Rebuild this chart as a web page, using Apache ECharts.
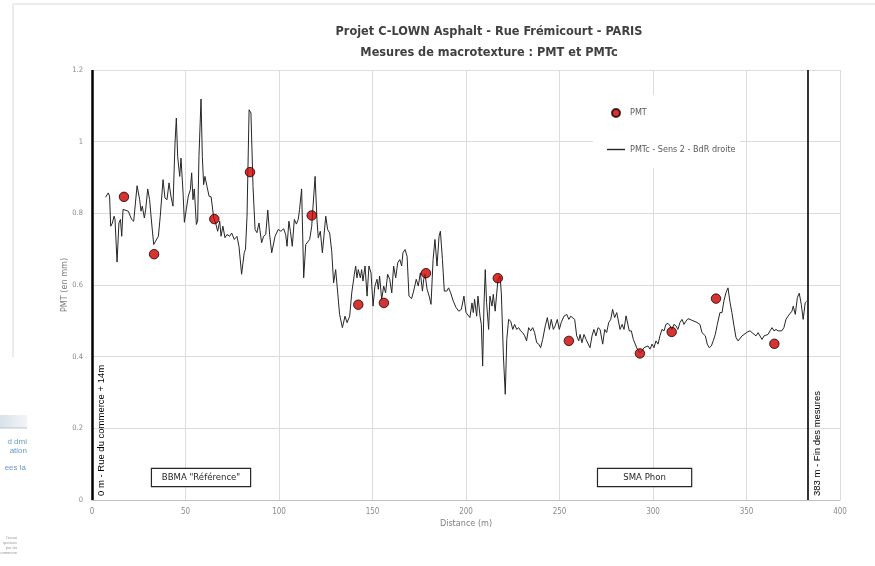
<!DOCTYPE html>
<html>
<head>
<meta charset="utf-8">
<script src="https://cdn.jsdelivr.net/npm/echarts@6/dist/echarts.min.js"></script>
<style>
  html, body { margin: 0; padding: 0; background: #ffffff; }
  #chart { width: 875px; height: 566px; }
</style>
</head>
<body>
<div id="chart"></div>
<script>
// Chart titles
const titleText = 'Projet C-LOWN Asphalt - Rue Frémicourt - PARIS\nMesures de macrotexture : PMT et PMTc';

// PMT point measurements: distance (m) and value (mm)
const pmtDistance = [17.1, 33.2, 65.4, 84.5, 117.5, 142.4, 156.1, 178.6, 217.0, 255.0, 293.0, 310.0, 333.7, 364.9];
const pmtValue    = [0.846, 0.686, 0.784, 0.915, 0.794, 0.545, 0.550, 0.633, 0.619, 0.444, 0.409, 0.469, 0.562, 0.436];

// Continuous PMTc profile, Sens 2 - BdR droite: [distance (m), value (mm)]
const pmtcProfile = [
  [7.3,0.845],[8.7,0.857],[9.4,0.848],[10.0,0.764],[10.9,0.773],[11.8,0.792],[12.3,0.783],[13.4,0.664],[14.4,0.773],[15.2,0.783],
  [15.9,0.736],[16.6,0.811],[17.6,0.811],[19.4,0.806],[21.2,0.783],[22.3,0.778],[24.1,0.877],[25.5,0.838],[26.2,0.806],[26.9,0.82],
  [28.0,0.787],[28.7,0.81],[29.8,0.868],[30.8,0.838],[31.9,0.773],[33.0,0.713],[34.0,0.716],[35.5,0.736],[36.5,0.792],[38.0,0.894],
  [39.0,0.843],[40.1,0.838],[41.2,0.885],[42.2,0.848],[43.3,0.82],[44.4,0.996],[45.1,1.066],[45.8,0.959],[46.9,0.903],[47.6,0.954],
  [48.7,0.857],[49.4,0.775],[50.4,0.81],[51.5,0.848],[52.6,0.866],[53.3,0.913],[54.0,0.838],[54.7,0.868],[55.8,0.769],[56.5,0.778],
  [57.2,0.959],[58.3,1.119],[59.0,0.959],[59.7,0.88],[60.4,0.903],[61.5,0.875],[62.6,0.848],[63.7,0.846],[65.1,0.787],[66.1,0.773],
  [67.2,0.75],[68.3,0.778],[69.0,0.736],[70.0,0.764],[71.1,0.732],[72.2,0.741],[73.6,0.736],[74.7,0.745],[76.1,0.727],[77.5,0.736],
  [78.6,0.708],[80.0,0.63],[81.4,0.69],[82.1,0.70],[82.9,0.792],[84.0,1.089],[85.0,1.08],[86.1,0.875],[87.2,0.755],[88.2,0.746],
  [89.3,0.773],[90.7,0.718],[91.8,0.736],[92.9,0.741],[94.0,0.809],[95.0,0.74],[96.1,0.69],[97.9,0.736],[99.6,0.755],[101.0,0.75],
  [102.5,0.757],[103.6,0.74],[104.3,0.708],[105.3,0.778],[106.1,0.75],[107.1,0.708],[108.2,0.783],[109.3,0.77],[110.3,0.783],[111.0,0.811],
  [112.1,0.868],[113.2,0.62],[114.3,0.713],[115.3,0.71],[116.4,0.727],[117.5,0.764],[118.2,0.82],[119.3,0.903],[120.3,0.783],[121.0,0.732],
  [122.1,0.75],[123.2,0.69],[124.2,0.69],[125.0,0.792],[126.0,0.755],[127.1,0.745],[128.2,0.694],[129.2,0.606],[130.3,0.643],[131.4,0.578],
  [132.4,0.518],[133.9,0.481],[135.3,0.513],[136.4,0.495],[137.8,0.513],[138.9,0.578],[140.3,0.63],[141.0,0.653],[141.7,0.62],[142.4,0.643],
  [143.5,0.62],[144.2,0.643],[144.9,0.611],[146.0,0.653],[147.1,0.569],[148.1,0.653],[149.2,0.634],[150.3,0.541],[151.3,0.597],[152.4,0.616],
  [153.1,0.588],[153.8,0.625],[154.9,0.56],[156.0,0.597],[157.0,0.578],[158.1,0.63],[159.2,0.616],[160.3,0.578],[161.3,0.653],[162.4,0.62],
  [163.5,0.662],[164.6,0.671],[165.6,0.653],[166.3,0.69],[167.4,0.699],[168.5,0.68],[169.5,0.569],[170.9,0.562],[172.0,0.583],[173.4,0.616],
  [174.5,0.597],[175.6,0.634],[176.7,0.583],[177.4,0.616],[178.1,0.63],[179.2,0.588],[180.3,0.569],[181.3,0.546],[182.4,0.671],[183.4,0.727],
  [184.5,0.653],[185.6,0.736],[186.3,0.75],[187.4,0.671],[188.4,0.583],[189.7,0.583],[190.7,0.592],[191.8,0.578],[193.2,0.555],[194.7,0.537],
  [196.1,0.527],[197.5,0.532],[198.9,0.569],[200.0,0.523],[201.0,0.518],[202.1,0.509],[203.2,0.55],[203.9,0.523],[204.6,0.56],[205.7,0.513],
  [206.4,0.569],[207.5,0.513],[208.2,0.49],[208.9,0.374],[209.6,0.541],[210.3,0.643],[211.0,0.551],[212.1,0.476],[212.8,0.569],[213.9,0.541],
  [214.6,0.574],[215.6,0.527],[216.3,0.569],[217.1,0.616],[218.2,0.625],[218.9,0.578],[220.0,0.402],[221.0,0.295],[221.8,0.448],[222.8,0.504],
  [223.9,0.499],[225.0,0.476],[226.0,0.49],[227.1,0.476],[228.2,0.481],[229.2,0.472],[230.3,0.467],[231.4,0.458],[232.4,0.444],[233.5,0.481],
  [234.6,0.472],[235.7,0.481],[236.7,0.467],[237.8,0.439],[238.9,0.435],[239.9,0.425],[241.0,0.448],[242.4,0.486],[243.5,0.509],[244.6,0.476],
  [245.6,0.504],[246.7,0.476],[247.7,0.486],[248.8,0.504],[249.9,0.476],[250.9,0.495],[252.4,0.513],[253.9,0.518],[255.0,0.504],[256.0,0.513],
  [257.0,0.515],[258.1,0.504],[259.2,0.458],[260.3,0.444],[261.0,0.462],[262.0,0.439],[263.1,0.462],[264.2,0.448],[265.2,0.453],[266.3,0.425],
  [267.4,0.458],[268.4,0.476],[269.5,0.458],[270.6,0.481],[271.7,0.476],[273.1,0.435],[274.2,0.476],[275.2,0.467],[276.3,0.495],[277.4,0.504],
  [278.4,0.532],[279.5,0.509],[280.6,0.523],[282.4,0.476],[283.5,0.49],[284.5,0.476],[285.6,0.514],[286.6,0.518],[287.3,0.472],[288.4,0.472],
  [289.5,0.448],[290.5,0.444],[291.6,0.421],[293.0,0.411],[294.1,0.416],[295.2,0.425],[296.2,0.421],[297.3,0.43],[298.4,0.421],[299.5,0.435],
  [300.5,0.425],[301.6,0.444],[302.7,0.435],[303.7,0.458],[304.8,0.476],[305.9,0.472],[306.9,0.49],[308.0,0.493],[309.1,0.486],[310.1,0.476],
  [311.2,0.49],[312.3,0.486],[313.3,0.476],[314.4,0.495],[315.5,0.504],[316.6,0.49],[317.6,0.499],[318.7,0.506],[319.8,0.504],[320.8,0.499],
  [321.9,0.499],[323.0,0.497],[324.0,0.499],[325.1,0.49],[326.2,0.467],[327.2,0.462],[328.0,0.458],[329.0,0.435],[330.1,0.425],[331.2,0.43],
  [332.2,0.444],[333.3,0.462],[334.4,0.49],[335.8,0.523],[336.9,0.523],[337.9,0.555],[339.0,0.578],[340.1,0.592],[341.2,0.551],[342.2,0.523],
  [343.3,0.486],[344.4,0.453],[345.5,0.444],[346.5,0.449],[347.6,0.458],[348.7,0.462],[349.7,0.467],[350.8,0.47],[351.9,0.472],[353.0,0.467],
  [354.0,0.462],[355.1,0.458],[356.2,0.467],[357.2,0.462],[358.3,0.448],[359.4,0.458],[360.4,0.453],[361.5,0.462],[362.6,0.472],[363.7,0.481],
  [364.7,0.472],[365.8,0.476],[366.9,0.472],[367.9,0.467],[368.9,0.472],[370.0,0.481],[371.1,0.504],[372.2,0.513],[373.2,0.509],[374.3,0.527],
  [375.0,0.541],[376.1,0.518],[377.2,0.565],[378.2,0.577],[379.3,0.546],[380.3,0.504],[381.4,0.551],[382.2,0.555]
];

// Section boundaries along the street
const boundaryDistance = [0, 383];
const boundaryLabels = ['0 m - Rue du commerce + 14m', '383 m - Fin des mesures'];

// Surface sections
const sectionLabels = ['BBMA "Référence"', 'SMA Phon'];
const sectionCentre = [58.3, 295.5];
const sectionWidth = [98, 93];

const narrowFont = "'Liberation Sans Narrow', 'DejaVu Sans Condensed', 'Liberation Sans', sans-serif";

const chart = echarts.init(document.getElementById('chart'), null, { renderer: 'canvas' });

chart.setOption({
  backgroundColor: '#ffffff',
  animation: false,
  title: {
    text: titleText,
    left: 484,
    top: 16,
    textAlign: 'center',
    textStyle: {
      fontFamily: narrowFont,
      fontSize: 12.6,
      fontWeight: 'bold',
      color: '#404040',
      lineHeight: 21
    }
  },
  legend: {
    orient: 'vertical',
    left: 593,
    top: 95,
    padding: [13, 4, 14, 14],
    backgroundColor: '#ffffff',
    itemGap: 27,
    itemWidth: 18,
    itemHeight: 8,
    textStyle: { fontFamily: narrowFont, fontSize: 9, color: '#595959' },
    data: [
      { name: 'PMT', icon: 'circle' },
      { name: 'PMTc - Sens 2 - BdR droite', icon: 'path://M0,0 L18,0 L18,1.4 L0,1.4 Z' }
    ]
  },
  grid: { left: 92, right: 35, top: 70, bottom: 66, containLabel: false },
  xAxis: {
    type: 'value',
    min: 0,
    max: 400,
    interval: 50,
    name: 'Distance (m)',
    nameLocation: 'middle',
    nameGap: 19,
    nameMoveOverlap: false,
    nameTextStyle: { fontFamily: narrowFont, fontSize: 9, color: '#7f7f7f' },
    axisLine: { show: true, lineStyle: { color: '#bfbfbf', width: 1 } },
    axisTick: { show: false },
    axisLabel: { fontFamily: narrowFont, fontSize: 8, color: '#8c8c8c', margin: 8 },
    splitLine: { show: true, lineStyle: { color: '#dcdcdc', width: 1 } }
  },
  yAxis: {
    type: 'value',
    min: 0,
    max: 1.2,
    interval: 0.2,
    name: 'PMT (en mm)',
    nameLocation: 'middle',
    nameGap: 23,
    nameRotate: 90,
    nameMoveOverlap: false,
    nameTextStyle: { fontFamily: narrowFont, fontSize: 9, color: '#7f7f7f' },
    axisLine: { show: false },
    axisTick: { show: false },
    axisLabel: { fontFamily: narrowFont, fontSize: 7.5, color: '#8c8c8c', margin: 9 },
    splitLine: { show: true, lineStyle: { color: '#dcdcdc', width: 1 } }
  },
  series: [
    {
      name: 'PMTc - Sens 2 - BdR droite',
      type: 'line',
      data: pmtcProfile,
      symbol: 'none',
      lineStyle: { color: '#262626', width: 1 },
      itemStyle: { color: '#262626' },
      z: 3,
      markLine: {
        silent: true,
        symbol: ['none', 'none'],
        animation: false,
        data: boundaryDistance.map((d, i) => ({
          xAxis: d,
          lineStyle: { color: '#000000', width: i === 0 ? 2.5 : 1.6, type: 'solid' },
          label: {
            show: true,
            formatter: boundaryLabels[i],
            position: 'insideStartBottom',
            distance: [4, 4],
            fontFamily: "'Liberation Sans', 'DejaVu Sans', sans-serif",
            fontSize: 9.5,
            color: '#000000'
          }
        }))
      },
      markPoint: {
        silent: true,
        animation: false,
        data: sectionLabels.map((s, i) => ({
          coord: [sectionCentre[i], 0.063],
          symbol: 'circle',
          symbolSize: 0,
          label: {
            show: true,
            formatter: s,
            position: 'inside',
            align: 'center',
            verticalAlign: 'middle',
            width: sectionWidth[i],
            height: 17,
            lineHeight: 17,
            backgroundColor: '#ffffff',
            borderColor: '#262626',
            borderWidth: 1.2,
            fontFamily: narrowFont,
            fontSize: 9.5,
            color: '#262626'
          }
        }))
      }
    },
    {
      name: 'PMT',
      type: 'scatter',
      data: pmtDistance.map((d, i) => [d, pmtValue[i]]),
      symbol: 'circle',
      symbolSize: 9.5,
      itemStyle: { color: '#cc0000', borderColor: '#1a0000', borderWidth: 1 },
      z: 5
    }
  ],
  graphic: [
    // outer chart frame
    { type: 'line', shape: { x1: 13, y1: 4, x2: 875, y2: 4 }, style: { stroke: '#d9d9d9', lineWidth: 1 } },
    { type: 'line', shape: { x1: 13, y1: 4, x2: 13, y2: 357 }, style: { stroke: '#d9d9d9', lineWidth: 1 } },
    // page fragment at the left border
    {
      type: 'rect', shape: { x: 0, y: 415, width: 27, height: 13 },
      style: { fill: new echarts.graphic.LinearGradient(0, 0, 1, 0, [{ offset: 0, color: '#d8e2ea' }, { offset: 1, color: '#f2f5f8' }]) }
    },
    { type: 'line', shape: { x1: 0, y1: 428, x2: 27, y2: 428 }, style: { stroke: '#b7c6d3', lineWidth: 1 } },
    { type: 'text', x: 27, y: 442, style: { text: 'd dmi', align: 'right', verticalAlign: 'middle', fill: '#3f7fbf', font: "8px 'Liberation Sans', sans-serif", opacity: 0.8 } },
    { type: 'text', x: 27, y: 451, style: { text: 'ation', align: 'right', verticalAlign: 'middle', fill: '#3f7fbf', font: "8px 'Liberation Sans', sans-serif", opacity: 0.8 } },
    { type: 'text', x: 26, y: 468, style: { text: 'ees la', align: 'right', verticalAlign: 'middle', fill: '#3f7fbf', font: "8px 'Liberation Sans', sans-serif", opacity: 0.8 } },
    { type: 'text', x: 17, y: 538, style: { text: "l'essai", align: 'right', verticalAlign: 'middle', fill: '#9a9a9a', font: "4px 'Liberation Sans', sans-serif" } },
    { type: 'text', x: 17, y: 543, style: { text: 'ipations', align: 'right', verticalAlign: 'middle', fill: '#9a9a9a', font: "4px 'Liberation Sans', sans-serif" } },
    { type: 'text', x: 17, y: 548, style: { text: 'par du', align: 'right', verticalAlign: 'middle', fill: '#9a9a9a', font: "4px 'Liberation Sans', sans-serif" } },
    { type: 'text', x: 17, y: 553, style: { text: 'commune', align: 'right', verticalAlign: 'middle', fill: '#9a9a9a', font: "4px 'Liberation Sans', sans-serif" } }
  ]
});
</script>
</body>
</html>
